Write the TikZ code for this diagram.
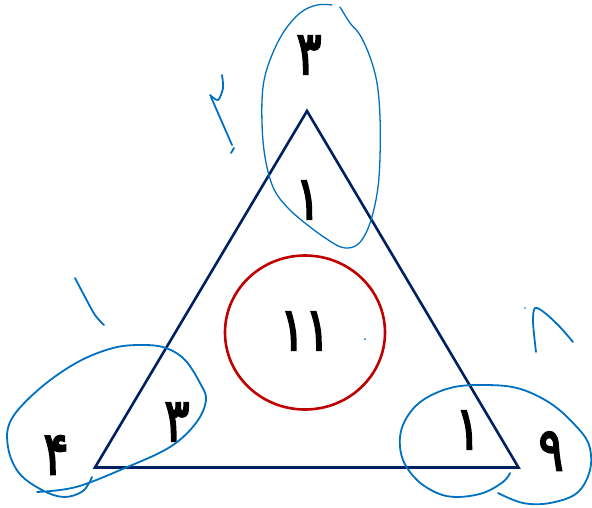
\documentclass[tikz,border=0pt]{standalone}
\usepackage{fontspec}
\usetikzlibrary{shapes.geometric}
\TeXXeTstate=1
\newfontfamily\fadigits[Script=Arabic,FakeBold=3.5]{DejaVu Sans}
\definecolor{inkblue}{RGB}{0,112,192}
\definecolor{navy}{RGB}{0,32,96}
\definecolor{darkred}{RGB}{192,0,0}
\tikzset{
  digit/.style={font=\fontsize{60}{60}\fadigits, text=black, inner sep=0pt, xscale=0.78},
  ink/.style={draw=inkblue, line width=1.8pt, line cap=round, line join=round},
  thinink/.style={draw=inkblue, line width=1.3pt, line cap=round, line join=round},
}
\begin{document}
\begin{tikzpicture}[x=1pt,y=-1pt]
\useasboundingbox (0,0) rectangle (592,507);
% triangle
\coordinate (A) at (307,111);
\coordinate (B) at (95,467.5);
\coordinate (C) at (518.5,467.5);
\draw[navy, line width=2.6pt, line join=miter] (A) -- (B) -- (C) -- cycle;
% red circle
\node[draw=darkred, line width=2.6pt, ellipse, minimum width=160pt, minimum height=154pt, inner sep=0pt] (circ) at (305,332.5) {};
% digits
\node[digit] (t3) at (309,55) {\beginR ۳\endR};
\node[digit] (t1) at (308,200) {\beginR ۱\endR};
\node[digit] (c11) at (305,331) {\beginR ۱۱\endR};
\node[digit] (l3) at (177,422) {\beginR ۳\endR};
\node[digit] (l4) at (56,455) {\beginR ۴\endR};
\node[digit] (r1) at (468,430) {\beginR ۱\endR};
\node[digit] (r9) at (551,451) {\beginR ۹\endR};
% top blue loop
\draw[thinink] plot[smooth, tension=0.6] coordinates {
 (340,7) (350,23) (360,35) (370,57) (377,83) (380,117) (380,157) (378,187)
 (373,213) (366,233) (357,245) (345,248) (333,243) (310,227) (287,207)
 (273,187) (265,157) (262,123) (263,87) (270,60) (283,33) (300,13) (317,5) (332,5)};
% bottom-left loop
\draw[ink] plot[smooth, tension=0.6] coordinates {
 (37,492) (76,487) (125,468) (170,447) (196,423) (206,400) (200,383)
 (185,360) (166,348) (143,345) (113,348) (76,363) (38,390) (11,420)
 (8,447) (19,473) (42,490) (64,497) (83,491) (92,477)};
% bottom-right loop
\draw[ink] plot[smooth, tension=0.6] coordinates {
 (510,473) (503,482) (483,493) (457,497) (437,493) (417,480) (403,460)
 (400,437) (407,417) (423,400) (450,388) (480,385) (517,388) (550,403)
 (575,425) (589,445) (590,470) (577,493) (550,503) (523,503) (498,493)};
% handwritten marks
\draw[ink] plot[smooth, tension=0.5] coordinates {(222,75) (223,88) (218,100) (210,95)};
\draw[ink] (211,97) -- (232,145);
\draw[ink] (234,148) -- (231,153);
\draw[ink] plot[smooth, tension=0.6] coordinates {(75,278) (85,297) (95,315) (104,325)};
\draw[ink] plot[smooth, tension=0.5] coordinates {(536,352) (533,322) (535,308) (545,313) (560,327) (573,342)};
\fill[inkblue] (525,308) circle (0.9pt);
\fill[inkblue] (365,339) circle (1pt);
\end{tikzpicture}
\end{document}
